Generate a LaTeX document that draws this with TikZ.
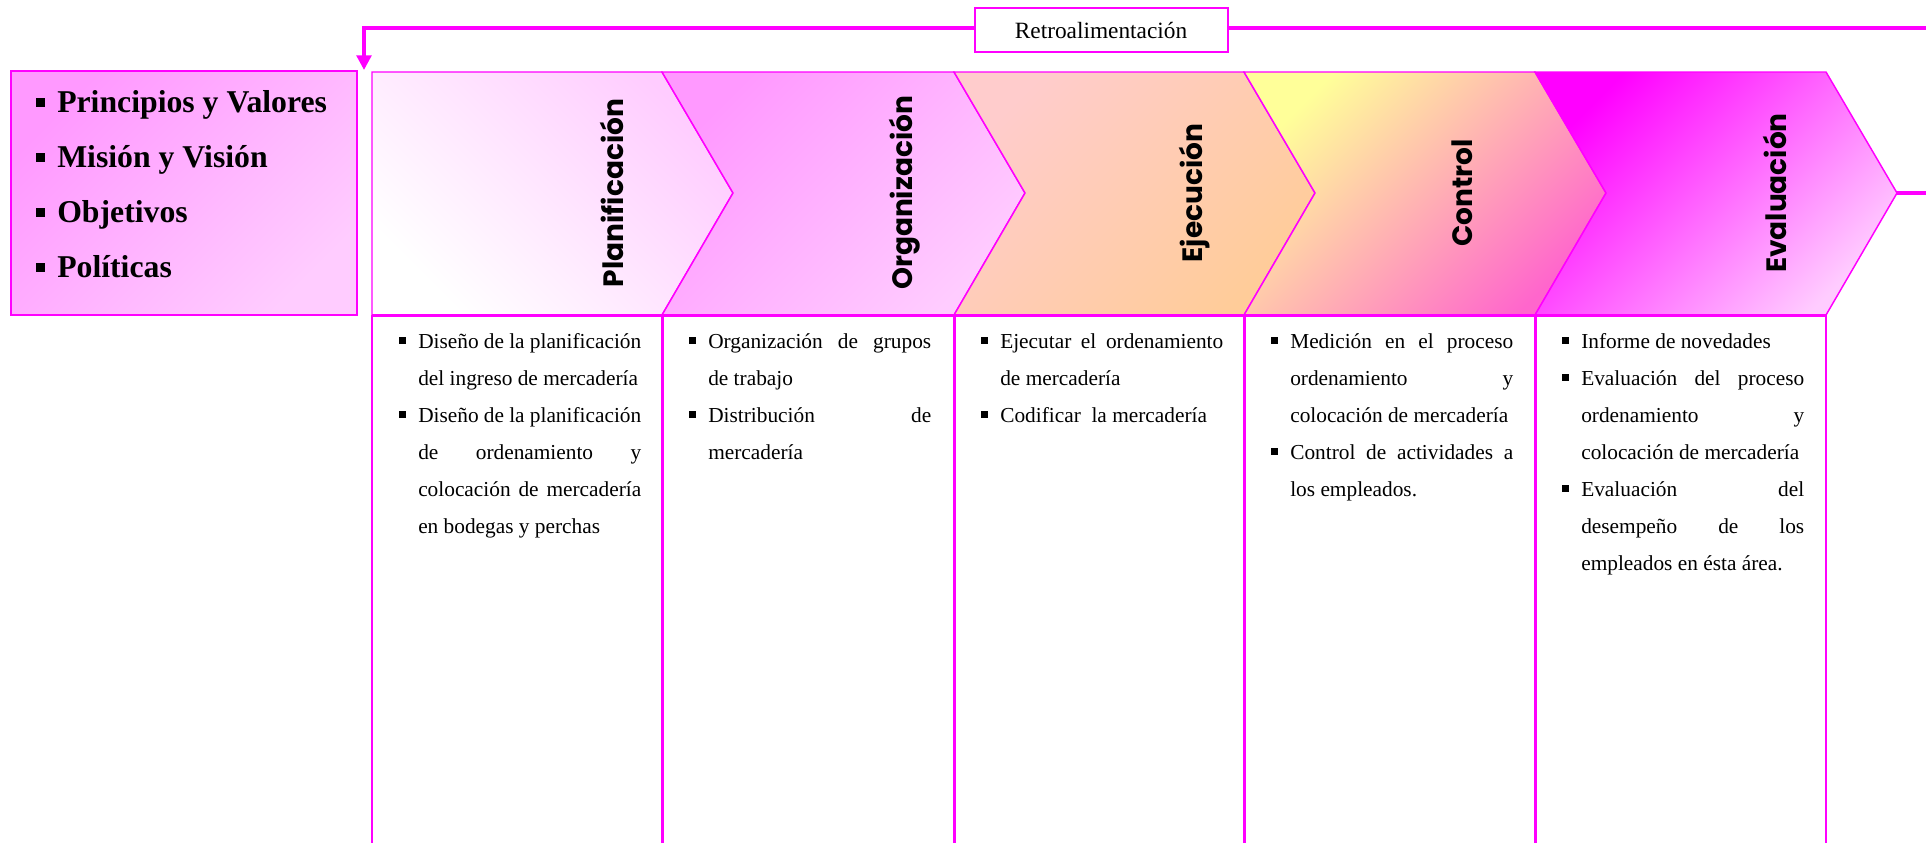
\documentclass[tikz,border=0pt]{standalone}
\usepackage{fontspec}
\setmainfont{Liberation Serif}
\newfontfamily\stagefont{Poppins}
\usetikzlibrary{arrows.meta}

\definecolor{mag}{RGB}{255,0,255}
\definecolor{pinkA}{RGB}{255,153,255}
\definecolor{pinkB}{RGB}{255,204,255}
\definecolor{roseA}{RGB}{255,204,204}
\definecolor{peach}{RGB}{255,204,153}
\definecolor{lemon}{RGB}{255,255,153}
\definecolor{hotpink}{RGB}{255,102,204}

% square bullets: size, raise
\newcommand{\sqbul}[2]{\par\noindent\llap{\raisebox{#2}{\rule{#1}{#1}}\hspace{9pt}}}
\newcommand{\tb}{\sqbul{5.25pt}{3pt}}
\newcommand{\vb}{\sqbul{6.75pt}{4pt}}
% justified line
\newcommand{\jl}[1]{\makebox[\linewidth][s]{#1}\newline}

\begin{document}
\begin{tikzpicture}[x=0.75pt,y=0.75pt,yscale=-1,xscale=1,
  edge/.style={draw=mag, line width=1.1pt},
  cellline/.style={draw=mag, line width=2.25pt},
  fbline/.style={draw=mag, line width=2.6pt},
  stage/.style={font=\stagefont\bfseries\fontsize{21}{22}\selectfont, rotate=90, inner sep=0pt},
  celltext/.style={anchor=base west, inner sep=0pt, font=\fontsize{16}{27.75}\selectfont},
  valfill/.style={top color=pinkA, bottom color=pinkB, shading angle=45},
  planfill/.style={top color=pinkB, bottom color=white, shading angle=-45},
  orgfill/.style={top color=pinkA, bottom color=pinkB, shading angle=45},
  ejecfill/.style={top color=roseA, bottom color=peach, shading angle=45},
  ctrlfill/.style={top color=lemon, bottom color=hotpink, shading angle=45},
  evalfill/.style={top color=mag, bottom color=pinkB, shading angle=45}]
\useasboundingbox (0,0) rectangle (1926,843);

%Shape: Rectangle
\draw[valfill, draw=mag, line width=1.5pt] (11,71) rectangle (357,315);
% Text Node
\node[anchor=base west, inner sep=0pt, font=\bfseries\fontsize{23.8}{41.25}\selectfont] (valores) at (57,112)
  {\parbox[t]{220pt}{\vb Principios y Valores \vb Misión y Visión \vb Objetivos \vb Políticas}};

%Shape: Chevrons
\draw[edge, planfill] (372,72) -- (662,72) -- (733,193) -- (662,315) -- (372,315) -- cycle;
\draw[edge, orgfill] (662,72) -- (954,72) -- (1025,193) -- (954,315) -- (662,315) -- (733,193) -- cycle;
\draw[edge, ejecfill] (954,72) -- (1244,72) -- (1315,193) -- (1244,315) -- (954,315) -- (1025,193) -- cycle;
\draw[edge, ctrlfill] (1244,72) -- (1535,72) -- (1606,193) -- (1535,315) -- (1244,315) -- (1315,193) -- cycle;
\draw[edge, evalfill] (1535,72) -- (1826,72) -- (1897,193) -- (1826,315) -- (1535,315) -- (1606,193) -- cycle;

% Text Node
\node[stage] (plan) at (612,193) {Planificación};
\node[stage] (org) at (905,193) {Organización};
\node[stage] (ejec) at (1195,193) {Ejecución};
\node[stage] (ctrl) at (1462,193) {Control};
\node[stage] (eval) at (1775,193) {Evaluación};

%Straight Lines
\draw[cellline] (372,315) -- (1826,315);
\draw[draw=mag, line width=1.5pt] (372,315) -- (372,843);
\draw[cellline] (662,315) -- (662,843);
\draw[cellline] (954,315) -- (954,843);
\draw[cellline] (1244,315) -- (1244,843);
\draw[cellline] (1535,315) -- (1535,843);
\draw[draw=mag, line width=1.5pt] (1826,315) -- (1826,843);

% Text Node
\node[celltext] (tplan) at (418,348) {\parbox[t]{167.25pt}{%
  \tb \jl{Diseño de la planificación}del ingreso de mercadería
  \tb \jl{Diseño de la planificación}\jl{de ordenamiento y}\jl{colocación de mercadería}en bodegas y perchas}};
\node[celltext] (torg) at (708,348) {\parbox[t]{167.25pt}{%
  \tb \jl{Organización de grupos}de trabajo
  \tb \jl{Distribución de}mercadería}};
\node[celltext] (tejec) at (1000,348) {\parbox[t]{167.25pt}{%
  \tb \jl{Ejecutar el ordenamiento}de mercadería
  \tb Codificar\ \ la mercadería}};
\node[celltext] (tctrl) at (1290,348) {\parbox[t]{167.25pt}{%
  \tb \jl{Medición en el proceso}\jl{ordenamiento y}colocación de mercadería
  \tb \jl{Control de actividades a}los empleados.}};
\node[celltext] (teval) at (1581,348) {\parbox[t]{167.25pt}{%
  \tb Informe de novedades
  \tb \jl{Evaluación del proceso}\jl{ordenamiento y}colocación de mercadería
  \tb \jl{Evaluación del}\jl{desempeño de los}empleados en ésta área.}};

% Feedback loop
\coordinate (evaltip) at (1897,193);
\coordinate (evalout) at (1926,193);
\coordinate (fbstart) at (1926,28);
\coordinate (fbend) at (364,70);
\draw[fbline] (evaltip) -- (evalout);
\draw[fbline, -{Triangle[length=11pt, width=11pt]}] (fbstart) -| (fbend);
\node[draw=mag, line width=1.5pt, fill=white, minimum width=189.75pt, minimum height=33pt, inner sep=0pt,
  font=\fontsize{17.5}{20}\selectfont] (retro) at (1101,30) {Retroalimentación};

\end{tikzpicture}
\end{document}
